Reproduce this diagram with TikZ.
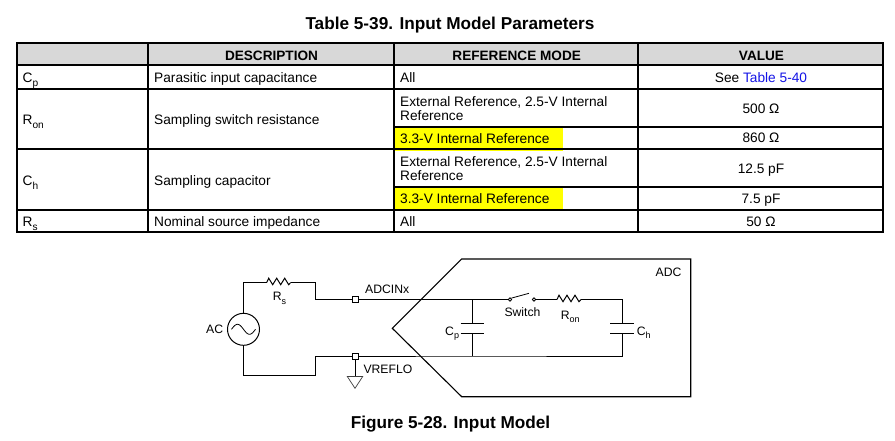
\documentclass[tikz,border=0pt]{standalone}
\usepackage{fontspec}
\setmainfont{Liberation Sans}
\usepackage{graphicx}
\newcommand\subx[1]{\raisebox{-0.32em}{\scalebox{0.74}{#1}}}
\definecolor{hlyellow}{RGB}{255,255,0}
\definecolor{linkblue}{RGB}{20,20,230}
\definecolor{headgray}{RGB}{216,216,216}
\begin{document}
\begin{tikzpicture}[x=1pt,y=-1pt,
  tabtext/.style={inner sep=0pt, font=\fontsize{13.7}{16}\selectfont},
  tabhead/.style={inner sep=0pt, font=\fontsize{13.6}{16}\selectfont\bfseries},
  titletext/.style={inner sep=0pt, font=\fontsize{17.2}{20}\selectfont\bfseries},
  dlabel/.style={inner sep=0pt, font=\fontsize{12.2}{14}\selectfont},
  tabline/.style={line width=1.2pt},
  wire/.style={line width=1pt},
  term/.style={draw, fill=white, line width=0.9pt, minimum size=6pt, inner sep=0pt},
  contact/.style={circle, draw, fill=white, line width=0.7pt, minimum size=3.2pt, inner sep=0pt},
  resz/.pic={\draw[wire, line join=miter] (0,0) -- (2,-4.3) -- (6,2.2) -- (10,-4.3) -- (14,2.2) -- (18,-4.3) -- (22,2.2) -- (24,0);},
]
\useasboundingbox (0,0) rectangle (895,440);
\fill[white] (0,0) rectangle (895,440);

% ---------- title ----------
\node[titletext, anchor=base] (title) at (450,29.3) {Table 5-39. Input Model Parameters};

% ---------- table background ----------
\fill[headgray] (17,43) rectangle (883,65);
\fill[hlyellow] (394,127.5) rectangle (563,150.5);
\fill[hlyellow] (394,187.5) rectangle (563,211);

% ---------- table grid ----------
\draw[tabline] (17,43) rectangle (883,232);
\draw[tabline] (17,65) -- (883,65);
\draw[tabline] (17,89) -- (883,89);
\draw[tabline] (394,127) -- (883,127);
\draw[tabline] (17,149) -- (883,149);
\draw[tabline] (394,187) -- (883,187);
\draw[tabline] (17,210) -- (883,210);
\draw[tabline] (148,43) -- (148,232);
\draw[tabline] (394,43) -- (394,232);
\draw[tabline] (638,43) -- (638,232);

% ---------- header ----------
\node[tabhead, anchor=base] (hdesc) at (271.5,60) {DESCRIPTION};
\node[tabhead, anchor=base] (hmode) at (516.7,60) {REFERENCE MODE};
\node[tabhead, anchor=base] (hval) at (761.5,60) {VALUE};

% ---------- rows ----------
\node[tabtext, anchor=base west] (p1) at (22.5,82) {C\subx{p}};
\node[tabtext, anchor=base west] (d1) at (154,82) {Parasitic input capacitance};
\node[tabtext, anchor=base west] (m1) at (400,82) {All};
\node[tabtext, anchor=base] (v1) at (761,82) {See \textcolor{linkblue}{Table 5-40}};

\node[tabtext, anchor=base west] (p2) at (22.5,124) {R\subx{on}};
\node[tabtext, anchor=base west] (d2) at (154,124) {Sampling switch resistance};
\node[tabtext, anchor=base west] (m2a) at (400,106) {External Reference, 2.5-V Internal};
\node[tabtext, anchor=base west] (m2b) at (400,120) {Reference};
\node[tabtext, anchor=base west] (m2c) at (400,143.3) {3.3-V Internal Reference};
\node[tabtext, anchor=base] (v2a) at (761,113.3) {500 Ω};
\node[tabtext, anchor=base] (v2b) at (761,142.7) {860 Ω};

\node[tabtext, anchor=base west] (p3) at (22.5,185) {C\subx{h}};
\node[tabtext, anchor=base west] (d3) at (154,185) {Sampling capacitor};
\node[tabtext, anchor=base west] (m3a) at (400,166) {External Reference, 2.5-V Internal};
\node[tabtext, anchor=base west] (m3b) at (400,180.7) {Reference};
\node[tabtext, anchor=base west] (m3c) at (400,203.3) {3.3-V Internal Reference};
\node[tabtext, anchor=base] (v3a) at (761,173) {12.5 pF};
\node[tabtext, anchor=base] (v3b) at (761,203.3) {7.5 pF};

\node[tabtext, anchor=base west] (p4) at (22.5,226.5) {R\subx{s}};
\node[tabtext, anchor=base west] (d4) at (154,226.5) {Nominal source impedance};
\node[tabtext, anchor=base west] (m4) at (400,226.5) {All};
\node[tabtext, anchor=base] (v4) at (761,226.5) {50 Ω};

% ---------- ADC outline ----------
\coordinate (adcTip) at (392.3,328.3);
\coordinate (adcTL) at (461.7,259);
\coordinate (adcTR) at (690.7,259);
\coordinate (adcBR) at (690.7,396.7);
\coordinate (adcBL) at (461.7,396.7);
\draw[line width=1.1pt, line join=miter] (adcTip) -- (adcTL) -- (adcTR) -- (adcBR) -- (adcBL) -- cycle;
\node[dlabel, anchor=base east] (adclbl) at (681.7,276) {ADC};

% ---------- source ----------
\node[circle, draw, line width=1pt, minimum size=32pt, inner sep=0pt] (ac) at (243.5,329.3) {};
\draw[line width=0.8pt, shift={(243.5,329.3)}] plot[domain=-12:12, samples=50, smooth] (\x, {5*sin(\x*180/12)});
\node[dlabel, anchor=base east] (aclbl) at (223.3,333.4) {AC};

\coordinate (srcTop) at (243.5,282.5);
\coordinate (rsA) at (266.7,282.5);
\coordinate (rsB) at (290.7,282.5);
\coordinate (stepT1) at (315,282.5);
\coordinate (stepT2) at (315,299.5);
\node[term] (tin) at (355,299.5) {};
\draw[wire] (ac.north) -- (srcTop) -- (rsA);
\pic at (rsA) {resz};
\draw[wire] (rsB) -- (stepT1) -- (stepT2) -- (tin.west);
\node[dlabel, anchor=base west] (rslbl) at (272.7,300.8) {R\subx{s}};
\node[dlabel, anchor=base west] (inlbl) at (365,293.7) {ADCINx};

\coordinate (srcBot) at (243.5,375);
\coordinate (stepB1) at (315,375);
\coordinate (stepB2) at (315,356);
\node[term] (tref) at (355,356) {};
\draw[wire] (ac.south) -- (srcBot) -- (stepB1) -- (stepB2) -- (tref.west);
\node[dlabel, anchor=base west] (reflbl) at (363.3,373.7) {VREFLO};

% ground
\coordinate (gnd) at (355,376.5);
\draw[wire] (tref.south) -- (gnd);
\draw[line width=0.7pt, draw=black!75, line join=miter] (347.3,376.5) -- (362.7,376.5) -- (355,388.3) -- cycle;

% ---------- inner circuit ----------
\coordinate (cpJ) at (472.3,299.5);
\coordinate (cpT) at (472.3,323.3);
\coordinate (cpB) at (472.3,333.3);
\coordinate (cpJb) at (472.3,356);
\node[contact] (swA) at (510,299.5) {};
\node[contact] (swB) at (534,299.5) {};
\coordinate (lever) at (529,293.3);
\coordinate (ronA) at (557,299.5);
\coordinate (ronB) at (581,299.5);
\coordinate (chJ) at (622.3,299.5);
\coordinate (chT) at (622.3,323.3);
\coordinate (chB) at (622.3,333.3);
\coordinate (chJb) at (622.3,356);

\draw[wire] (tin.east) -- (cpJ) -- (swA.west);
\draw[wire] (cpJ) -- (cpT);
\draw[wire] ([xshift=-11.8pt]cpT) -- ([xshift=11.8pt]cpT);
\draw[wire] ([xshift=-11.8pt]cpB) -- ([xshift=11.8pt]cpB);
\draw[wire] (cpB) -- (cpJb);
\draw[line width=0.8pt] (swA.north east) -- (lever);
\draw[wire] (swB.east) -- (ronA);
\pic at (ronA) {resz};
\draw[wire] (ronB) -- (chJ) -- (chT);
\draw[wire] ([xshift=-12pt]chT) -- ([xshift=12pt]chT);
\draw[wire] ([xshift=-12pt]chB) -- ([xshift=12pt]chB);
\draw[wire] (chB) -- (chJb) -- (cpJb) -- (tref.east);
\node[contact] at (swA) {};
\node[contact] at (swB) {};

\node[dlabel, anchor=base] (swlbl) at (522.5,316) {Switch};
\node[dlabel, anchor=base west] (ronlbl) at (560.7,319) {R\subx{on}};
\node[dlabel, anchor=base west] (cplbl) at (445,335) {C\subx{p}};
\node[dlabel, anchor=base west] (chlbl) at (636.7,335) {C\subx{h}};

% ---------- caption ----------
\node[titletext, anchor=base] (caption) at (450.5,428.3) {Figure 5-28. Input Model};
\end{tikzpicture}
\end{document}
